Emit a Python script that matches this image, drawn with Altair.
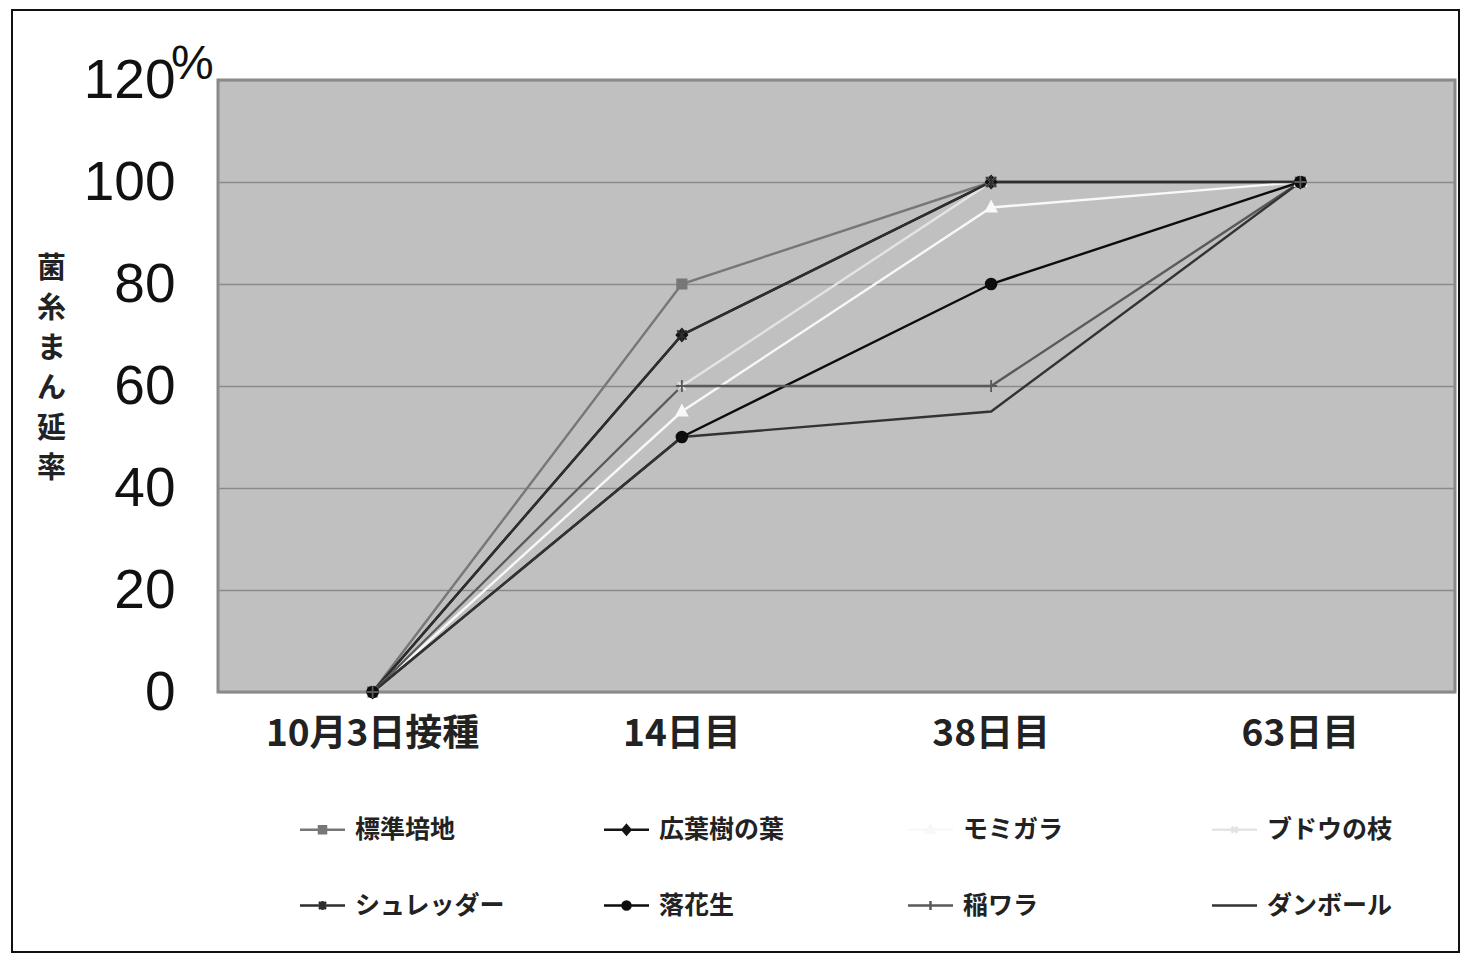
import altair as alt
import pandas as pd

days = ["10月3日接種", "14日目", "38日目", "63日目"]
series = ["標準培地", "広葉樹の葉", "モミガラ", "ブドウの枝", "シュレッダー", "落花生", "稲ワラ", "ダンボール"]
v_hyojun = [0, 80, 100, 100]
v_koyoju = [0, 70, 100, 100]
v_momigara = [0, 55, 95, 100]
v_budou = [0, 60, 100, 100]
v_shredder = [0, 70, 100, 100]
v_rakkasei = [0, 50, 80, 100]
v_inawara = [0, 60, 60, 100]
v_danboru = [0, 50, 55, 100]
all_vals = [v_hyojun, v_koyoju, v_momigara, v_budou, v_shredder, v_rakkasei, v_inawara, v_danboru]

colors = ["#777777", "#151515", "#f8f8f8", "#e4e4e4", "#2e2e2e", "#0d0d0d", "#5a5a5a", "#333333"]

rows = []
for s, vals in zip(series, all_vals):
    for d, v in zip(days, vals):
        rows.append({"series": s, "day": d, "value": v})
df = pd.DataFrame(rows)

m_square = "M-0.7,-0.7H0.7V0.7H-0.7Z"
m_diamond = "M0,-0.9L0.8,0L0,0.9L-0.8,0Z"
m_tri = "M0,-0.9L0.8,0.6H-0.8Z"
m_x = "M-0.6,-0.6L0.6,0.6M-0.6,0.6L0.6,-0.6"
m_star = "M-0.7,-0.7L0.7,0.7M-0.7,0.7L0.7,-0.7M0,-0.9V0.9"
m_circle = "M-0.8,0A0.8,0.8,0,1,0,0.8,0A0.8,0.8,0,1,0,-0.8,0Z"
m_plus = "M0,-0.9V0.9M-0.9,0H0.9"
m_none = "M0,0L0,0"
markers = [m_square, m_diamond, m_tri, m_x, m_star, m_circle, m_plus, m_none]
line_seg = "M-4.5,0H4.5"
legend_shapes = [line_seg + mk for mk in markers]

# legend grid is filled column by column: reorder so rows read like the reference
leg_order = [0, 4, 1, 5, 2, 6, 3, 7]
leg_domain = [series[i] for i in leg_order]
leg_colors = [colors[i] for i in leg_order]
leg_shapes = [legend_shapes[i] for i in leg_order]

JP = "Noto Sans CJK JP"

base = alt.Chart(df)
x_enc = alt.X("day:N", sort=days, scale=alt.Scale(type="band", domain=days, paddingInner=0, paddingOuter=0),
              axis=alt.Axis(title=None, labelFont=JP, labelFontSize=37, labelFontWeight="bold",
                            labelColor="#222222", labelPadding=24, ticks=False, domain=False,
                            labelAngle=0, grid=False, labelLimit=500))
y_enc = alt.Y("value:Q", scale=alt.Scale(domain=[0, 120], nice=False),
              axis=alt.Axis(values=[0, 20, 40, 60, 80, 100, 120], labelFont="Liberation Sans",
                            labelFontSize=55, labelColor="#111111", labelPadding=43, ticks=False,
                            domain=False, gridColor="#8a8a8a", gridWidth=1.5,
                            title=["菌", "糸", "ま", "ん", "延", "率"], titleAngle=0,
                            titleFont=JP, titleFontSize=29, titleFontWeight="bold",
                            titleColor="#222222", titleLineHeight=40, titleX=-167, titleY=174,
                            titleBaseline="top", titleAlign="center"))

lines = base.mark_line(strokeWidth=2.4).encode(
    x=x_enc, y=y_enc,
    color=alt.Color("series:N", scale=alt.Scale(domain=series, range=colors), legend=None),
    order=alt.Order("day_idx:Q"),
    detail="series:N",
).transform_calculate(day_idx="indexof(%s, datum.day)" % str(days))

points = base.mark_point(filled=False, opacity=1, size=180, strokeWidth=1.8).encode(
    x=alt.X("day:N", sort=days), y="value:Q",
    fill=alt.Fill("series:N", scale=alt.Scale(domain=series, range=colors), legend=None),
    stroke=alt.Stroke("series:N", scale=alt.Scale(domain=series, range=colors), legend=None),
    shape=alt.Shape("series:N", scale=alt.Scale(domain=series, range=markers), legend=None),
)

leg = alt.Legend(title=None, orient="none", legendX=92, legendY=737, columns=4,
                 labelFont=JP, labelFontSize=25, labelFontWeight="bold", labelColor="#222222",
                 labelOffset=20, columnPadding=93, rowPadding=50, symbolSize=100,
                 symbolStrokeWidth=2.5, gridAlign="all", labelLimit=300)
legend_layer = base.transform_filter("false").mark_point(filled=False, opacity=1).encode(
    fill=alt.Fill("series:N", scale=alt.Scale(domain=leg_domain, range=leg_colors), legend=leg),
    stroke=alt.Stroke("series:N", scale=alt.Scale(domain=leg_domain, range=leg_colors), legend=leg),
    shape=alt.Shape("series:N", scale=alt.Scale(domain=leg_domain, range=leg_shapes), legend=leg),
)

one = alt.Chart(pd.DataFrame({"a": [0]}))
pct = one.mark_text(text="%", align="left", baseline="alphabetic", fontSize=48,
                    font="Liberation Sans", color="#111111").encode(
    x=alt.value(-47), y=alt.value(-1))
frame = one.mark_rect(fillOpacity=0, stroke="#111111", strokeWidth=2).encode(
    x=alt.value(-206), x2=alt.value(1241), y=alt.value(-70), y2=alt.value(872))

chart = alt.layer(lines, points, legend_layer, pct, frame).resolve_scale(
    color="independent", fill="independent", stroke="independent", shape="independent"
).properties(
    width=1237, height=612,
    autosize=alt.AutoSizeParams(type="none"),
    padding={"left": 218, "top": 80, "right": 5, "bottom": 263},
    background="white",
    view=alt.ViewBackground(fill="#c0c0c0", stroke="#8a8a8a", strokeWidth=3),
).configure_view(fill="#c0c0c0", stroke="#8a8a8a", strokeWidth=3)

chart.save("out.html", embed_options={"renderer": "svg", "actions": False})
